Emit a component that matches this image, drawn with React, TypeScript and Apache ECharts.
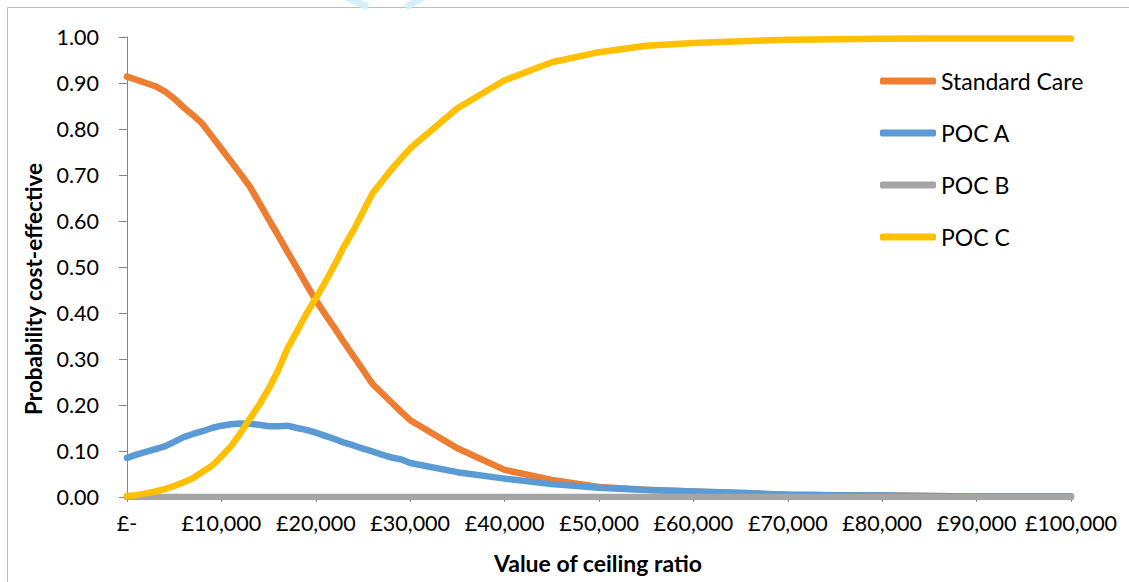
import React, { useEffect, useRef } from "react";
import * as echarts from "echarts";

const ceilingRatios = [
  0, 1000, 2000, 3000, 4000, 5000, 6000, 7000, 8000, 9000, 10000, 11000, 12000, 13000, 14000, 15000,
  16000, 17000, 18000, 19000, 20000, 21000, 22000, 23000, 24000, 25000, 26000, 27000, 28000, 29000, 30000,
  35000, 40000, 45000, 50000, 55000, 60000, 65000, 70000, 75000, 80000, 85000, 90000, 95000, 100000,
];

const standardCare = [
  0.914, 0.907, 0.9, 0.893, 0.882, 0.866, 0.847, 0.83, 0.811, 0.784, 0.757, 0.73, 0.703, 0.675, 0.64, 0.604,
  0.569, 0.533, 0.498, 0.462, 0.428, 0.397, 0.367, 0.336, 0.306, 0.276, 0.246, 0.226, 0.206, 0.186, 0.167,
  0.106, 0.059, 0.037, 0.022, 0.016, 0.012, 0.008, 0.005, 0.004, 0.003, 0.002, 0.001, 0.001, 0.001,
];

const pocA = [
  0.085, 0.092, 0.098, 0.104, 0.11, 0.12, 0.13, 0.137, 0.143, 0.15, 0.155, 0.158, 0.16, 0.159, 0.157, 0.154,
  0.154, 0.155, 0.15, 0.146, 0.14, 0.133, 0.126, 0.118, 0.112, 0.105, 0.099, 0.092, 0.086, 0.082, 0.074,
  0.054, 0.04, 0.028, 0.02, 0.015, 0.012, 0.009, 0.005, 0.004, 0.003, 0.002, 0.001, 0.001, 0.001,
];

const pocB = [
  0, 0, 0, 0, 0, 0, 0, 0, 0, 0, 0, 0, 0, 0, 0, 0,
  0, 0, 0, 0, 0, 0, 0, 0, 0, 0, 0, 0, 0, 0, 0,
  0, 0, 0, 0, 0, 0, 0, 0, 0, 0, 0, 0, 0, 0,
];

const pocC = [
  0.002, 0.004, 0.008, 0.012, 0.017, 0.024, 0.032, 0.041, 0.055, 0.068, 0.088, 0.11, 0.138, 0.17, 0.2, 0.235,
  0.275, 0.323, 0.36, 0.398, 0.432, 0.467, 0.505, 0.545, 0.58, 0.62, 0.66, 0.686, 0.712, 0.735, 0.758,
  0.845, 0.906, 0.945, 0.967, 0.981, 0.987, 0.991, 0.994, 0.995, 0.996, 0.997, 0.997, 0.997, 0.997,
];

const seriesNames = ["Standard Care", "POC A", "POC B", "POC C"];
const seriesColors = ["#ED7D31", "#5B9BD5", "#A5A5A5", "#FFC000"];
const seriesValues = [standardCare, pocA, pocB, pocC];

const xTitle = "Value of ceiling ratio";
const yTitle = "Probability cost-effective";

const FONT = "Lato, 'Open Sans', sans-serif";

export default function App() {
  const ref = useRef<HTMLDivElement>(null);

  useEffect(() => {
    if (!ref.current) return;
    const chart = echarts.init(ref.current, undefined, { renderer: "svg" });

    const series = seriesNames.map((name, i) => ({
      name,
      type: "line",
      data: ceilingRatios.map((x, j) => [x, seriesValues[i][j]]),
      showSymbol: false,
      symbol: "none",
      smooth: false,
      color: seriesColors[i],
      lineStyle: { width: 6.5, color: seriesColors[i], cap: "round", join: "round" },
      emphasis: { disabled: true },
    }));

    chart.setOption({
      animation: false,
      backgroundColor: "#ffffff",
      grid: { left: 127, right: 58, top: 37, bottom: 85, containLabel: false },
      xAxis: {
        type: "value",
        min: 0,
        max: 100000,
        interval: 10000,
        axisLine: { show: true, lineStyle: { color: "#868686", width: 1 } },
        axisTick: { show: true, length: 5, lineStyle: { color: "#868686" } },
        splitLine: { show: false },
        axisLabel: {
          margin: 15,
          color: "#000000",
          fontFamily: FONT,
          fontSize: 21.5,
          formatter: (v: number) => (v === 0 ? "£-" : "£" + v.toLocaleString("en-GB")),
        },
      },
      yAxis: {
        type: "value",
        min: 0,
        max: 1,
        interval: 0.1,
        axisLine: { show: true, lineStyle: { color: "#868686", width: 1 } },
        axisTick: { show: true, length: 8, lineStyle: { color: "#868686" } },
        splitLine: { show: false },
        axisLabel: {
          margin: 28,
          color: "#000000",
          fontFamily: FONT,
          fontSize: 21.5,
          formatter: (v: number) => v.toFixed(2),
        },
      },
      legend: {
        orient: "vertical",
        left: 875,
        top: 64,
        icon: "roundRect",
        itemWidth: 56,
        itemHeight: 7,
        itemGap: 28,
        data: seriesNames,
        selectedMode: false,
        textStyle: { color: "#000000", fontFamily: FONT, fontSize: 23, lineHeight: 24 },
      },
      graphic: [
        {
          type: "rect",
          z: -1,
          shape: { x: 7.5, y: 7.5, width: 1300, height: 800 },
          style: { fill: "transparent", stroke: "#BFBFBF", lineWidth: 1 },
          silent: true,
        },
        {
          type: "line",
          shape: { x1: 346, y1: -3, x2: 368, y2: 7 },
          style: { stroke: "#D6EFFC", lineWidth: 7 },
          silent: true,
        },
        {
          type: "line",
          shape: { x1: 424, y1: -3, x2: 406, y2: 7 },
          style: { stroke: "#D6EFFC", lineWidth: 7 },
          silent: true,
        },
        {
          type: "text",
          x: 598,
          y: 563,
          style: {
            text: xTitle,
            fontFamily: FONT,
            fontWeight: "bold",
            fontSize: 23,
            fill: "#000000",
            align: "center",
            verticalAlign: "middle",
          },
          silent: true,
        },
        {
          type: "text",
          x: 33,
          y: 289,
          rotation: Math.PI / 2,
          style: {
            text: yTitle,
            fontFamily: FONT,
            fontWeight: "bold",
            fontSize: 22.5,
            fill: "#000000",
            align: "center",
            verticalAlign: "middle",
          },
          silent: true,
        },
      ],
      series,
    });

    return () => chart.dispose();
  }, []);

  return (
    <div
      ref={ref}
      style={{ position: "fixed", left: 0, top: 0, width: 1129, height: 582, background: "#fff" }}
    />
  );
}
